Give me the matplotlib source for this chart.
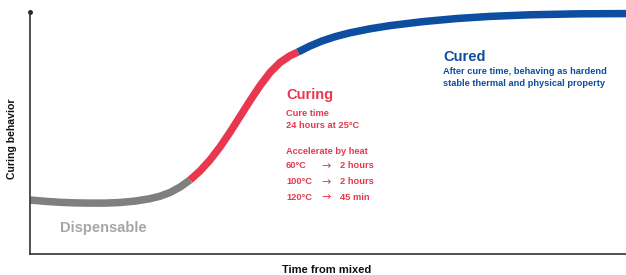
import matplotlib.pyplot as plt

# Curve: time from mixed vs curing behavior (px-like units)
time_pts = [0, 15, 30, 45, 60, 75, 90, 105, 120, 130, 140, 150, 160,
            170, 180, 190, 200, 210, 220, 230, 240, 250, 260, 268,
            280, 292, 305, 320, 340, 360, 393, 427, 460, 500, 550, 596]
behavior_pts = [54, 52.7, 51.7, 51.1, 50.9, 50.9, 51.5, 52.9, 55.3, 57.8, 61.5, 66.9, 74,
                83, 94, 107, 121.75, 137.5, 153.25, 168.25, 181.5, 191.5, 198.25, 202,
                208, 213, 217.3, 221.2, 225.2, 228.4, 232.4, 235.5, 237.6, 239.2, 240.2, 240.4]

# stage boundaries (index into the curve)
stage_names = ["Dispensable", "Curing", "Cured"]
stage_bounds = [(0, 12), (12, 23), (23, 35)]
stage_colors = ["#7f7f7f", "#e8374e", "#0d4ea1"]

heat_temps = ["60°C", "100°C", "120°C"]
heat_times = ["2 hours", "2 hours", "45 min"]

plt.rcParams["font.family"] = ["Liberation Sans", "DejaVu Sans"]
plt.rcParams["font.weight"] = "bold"

fig = plt.figure(figsize=(6.26, 2.75), dpi=100)
ax = fig.add_axes([30 / 626, 21 / 275, 596 / 626, 242 / 275])
ax.set_xlim(0, 596)
ax.set_ylim(0, 242)

for (a, b), color in zip(stage_bounds, stage_colors):
    ax.plot(time_pts[a:b + 1], behavior_pts[a:b + 1], color=color, lw=5.4,
            solid_capstyle="butt", solid_joinstyle="round", clip_on=False)

for side in ["top", "right"]:
    ax.spines[side].set_visible(False)
for side in ["left", "bottom"]:
    ax.spines[side].set_color("#333333")
    ax.spines[side].set_linewidth(1.2)
ax.set_xticks([])
ax.set_yticks([])
ax.plot([0], [242], marker="o", ms=2.5, color="#222222", clip_on=False)

small = 6.7

# stage labels
ax.text(30, 26, stage_names[0], color="#a6a6a6", fontsize=10.5, va="center")
red = stage_colors[1]
ax.text(256, 159, stage_names[1], color=red, fontsize=10.5, va="center")
ax.text(256, 140, "Cure time", color=red, fontsize=small, va="center")
ax.text(256, 128, "24 hours at 25°C", color=red, fontsize=small, va="center")
ax.text(256, 102, "Accelerate by heat", color=red, fontsize=small, va="center")
for y, temp, t in zip([88, 72, 57], heat_temps, heat_times):
    ax.text(256, y, temp, color=red, fontsize=small, va="center")
    ax.text(291, y, "→", color=red, fontsize=8, va="center",
            family="DejaVu Sans", fontweight="normal")
    ax.text(310, y, t, color=red, fontsize=small, va="center")

blue = stage_colors[2]
ax.text(413, 197, stage_names[2], color=blue, fontsize=10.5, va="center")
ax.text(413, 182, "After cure time, behaving as hardend", color=blue,
        fontsize=small, va="center")
ax.text(413, 170, "stable thermal and physical property", color=blue,
        fontsize=small, va="center")

fig.text(12 / 626, 1 - 139 / 275, "Curing behavior", rotation=90,
         ha="center", va="center", fontsize=7.6, color="#111111")
fig.text(327 / 626, 1 - 270 / 275, "Time from mixed", ha="center",
         va="center", fontsize=8.0, color="#111111")

fig.savefig("out.png", dpi=100, facecolor="white")
